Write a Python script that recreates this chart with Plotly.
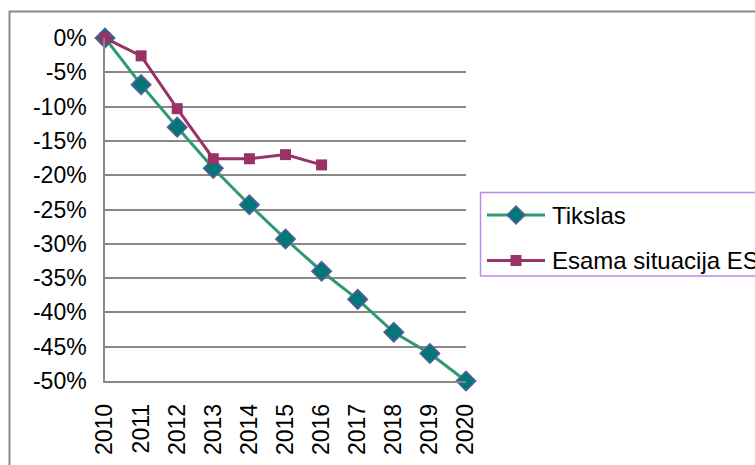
import plotly.graph_objects as go

# Data
years = [2010, 2011, 2012, 2013, 2014, 2015, 2016, 2017, 2018, 2019, 2020]
tikslas = [0.0, -0.068, -0.130, -0.190, -0.243, -0.293, -0.340, -0.381, -0.429, -0.460, -0.500]
esama_years = [2010, 2011, 2012, 2013, 2014, 2015, 2016]
esama = [0.0, -0.026, -0.103, -0.176, -0.176, -0.170, -0.185]
y_tickvals = [0.0, -0.05, -0.10, -0.15, -0.20, -0.25, -0.30, -0.35, -0.40, -0.45, -0.50]
y_ticktext = ["0%", "-5%", "-10%", "-15%", "-20%", "-25%", "-30%", "-35%", "-40%", "-45%", "-50%"]
series_names = ["Tikslas", "Esama situacija ES"]

W, H = 755, 465
L, R, T, B = 105, 289, 38, 84
FONT = "Liberation Sans, Arial, sans-serif"

GREEN = "#2e9a6e"
TEAL = "#007878"
DIAMOND_EDGE = "#5c5c9c"
PLUM = "#993366"
GRID = "#888888"


def px(x):
    """Pixel x -> paper fraction of the plot area."""
    return (x - L) / (W - L - R)


def py(y):
    """Pixel y (from top) -> paper fraction of the plot area."""
    return (H - B - y) / (H - T - B)


fig = go.Figure()
fig.add_trace(go.Scatter(
    x=years, y=tikslas, name=series_names[0], mode="lines+markers",
    line=dict(color=GREEN, width=3),
    marker=dict(symbol="diamond", size=15, color=TEAL,
                line=dict(color=DIAMOND_EDGE, width=1.5)),
    cliponaxis=False, showlegend=False,
))
fig.add_trace(go.Scatter(
    x=esama_years, y=esama, name=series_names[1], mode="lines+markers",
    line=dict(color=PLUM, width=3),
    marker=dict(symbol="square", size=11, color=PLUM),
    cliponaxis=False, showlegend=False,
))

shapes = []
# outer chart frame (runs off the right and bottom edges)
shapes.append(dict(type="path", xref="paper", yref="paper",
                   path=f"M {px(9.5)},{py(480)} L {px(9.5)},{py(11.5)} L {px(800)},{py(11.5)}",
                   line=dict(color="#8a8a8a", width=2)))

# legend box
shapes.append(dict(type="rect", xref="paper", yref="paper",
                   x0=px(480.5), x1=px(820), y0=py(276), y1=py(192.5),
                   line=dict(color="#b98af0", width=1.5), fillcolor="white", layer="above"))

legend_rows = [
    (215, GREEN, "diamond", series_names[0]),
    (260.5, PLUM, "square", series_names[1]),
]
annotations = []
for yrow, col, sym, label in legend_rows:
    shapes.append(dict(type="line", xref="paper", yref="paper",
                       x0=px(487), x1=px(545), y0=py(yrow), y1=py(yrow),
                       line=dict(color=col, width=3), layer="above"))
    if sym == "diamond":
        shapes.append(dict(type="path", xref="paper", yref="paper",
                           xsizemode="pixel", ysizemode="pixel",
                           xanchor=px(516), yanchor=py(yrow),
                           path="M -9,0 L 0,9 L 9,0 L 0,-9 Z",
                           fillcolor=TEAL, line=dict(color=DIAMOND_EDGE, width=1.5),
                           layer="above"))
    else:
        shapes.append(dict(type="rect", xref="paper", yref="paper",
                           xsizemode="pixel", ysizemode="pixel",
                           xanchor=px(516), yanchor=py(yrow),
                           x0=-5.5, x1=5.5, y0=-5.5, y1=5.5,
                           fillcolor=PLUM, line=dict(color=PLUM, width=0),
                           layer="above"))
    annotations.append(dict(xref="paper", yref="paper", x=px(550), y=py(yrow),
                            xanchor="left", yanchor="middle", showarrow=False,
                            text=label, font=dict(family=FONT, size=24, color="black")))

fig.update_layout(
    width=W, height=H,
    margin=dict(l=L, r=R, t=T, b=B, autoexpand=False),
    paper_bgcolor="white", plot_bgcolor="white",
    font=dict(family=FONT, size=23, color="black"),
    shapes=shapes, annotations=annotations,
    showlegend=False,
)
fig.update_xaxes(
    range=[2010, 2020], tickmode="array", tickvals=years,
    ticktext=[str(y) for y in years], tickangle=-90,
    showgrid=False, zeroline=False, showline=True, linecolor=GRID, linewidth=1.5,
    ticks="", ticklabelstandoff=12, automargin=False,
)
fig.update_yaxes(
    range=[-0.5, 0], tickmode="array", tickvals=y_tickvals, ticktext=y_ticktext,
    showgrid=True, gridcolor=GRID, gridwidth=1.5, zeroline=False,
    showline=True, linecolor=GRID, linewidth=1.5,
    ticks="", ticklabelstandoff=12, automargin=False,
)

fig.write_html("out.html")
